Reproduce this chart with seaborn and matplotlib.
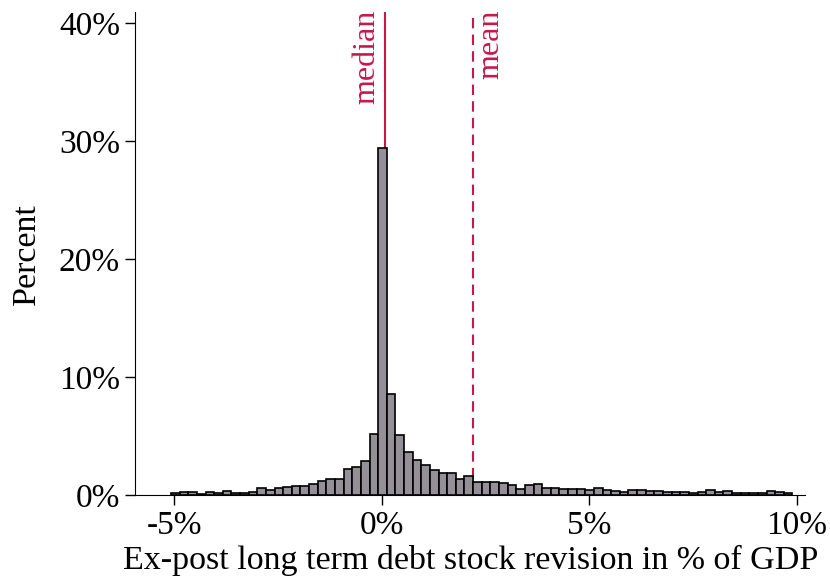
import matplotlib
matplotlib.use('Agg')
import matplotlib.pyplot as plt
import seaborn as sns
import numpy as np
import pandas as pd
from matplotlib.ticker import FuncFormatter

# bin layout (Stata-style: start at the min, fixed width)
bin_start = -5.08
bin_width = 0.208

# percent of observations in each bin, left to right
bar_pct = [
    0.15, 0.23, 0.23, 0.12, 0.22, 0.21, 0.38, 0.21, 0.21, 0.25,
    0.56, 0.42, 0.60, 0.70, 0.76, 0.76, 0.96, 1.20, 1.40, 1.35,
    2.18, 2.36, 2.90, 5.20, 29.40, 8.60, 5.06, 3.64, 2.97, 2.54,
    2.09, 1.89, 1.89, 1.33, 1.60, 1.12, 1.12, 1.10, 1.05, 0.82,
    0.48, 0.82, 0.96, 0.60, 0.63, 0.48, 0.48, 0.48, 0.40, 0.63,
    0.40, 0.36, 0.25, 0.45, 0.45, 0.34, 0.34, 0.23, 0.23, 0.23,
    0.20, 0.23, 0.42, 0.23, 0.34, 0.20, 0.20, 0.20, 0.20, 0.31,
    0.25, 0.17,
]

median_val = 0.08
mean_val = 2.2

x_ticks = [-5, 0, 5, 10]
y_ticks = [0, 10, 20, 30, 40]

red = '#c8174b'

sns.set_style('ticks')
plt.rcParams['font.family'] = ['Liberation Serif', 'DejaVu Serif']

n_bins = len(bar_pct)
edges = bin_start + bin_width * np.arange(n_bins + 1)
df = pd.DataFrame({'rev': (edges[:-1] + edges[1:]) / 2, 'pct': bar_pct})

fig = plt.figure(figsize=(8.3, 5.79), dpi=100)
ax = fig.add_axes([0.163, 0.145, 0.807, 0.834])

ax.axvline(median_val, color=red, lw=1.5, zorder=0)
ax.axvline(mean_val, color=red, lw=1.5, ls=(0, (5, 3)), zorder=0)

sns.histplot(data=df, x='rev', weights='pct', binwidth=bin_width,
             binrange=(float(edges[0]), float(edges[-1])), ax=ax,
             color='#958f97', edgecolor='black', linewidth=1.2, alpha=1, zorder=2)

ax.set_xlim(-5.94, 10.2)
ax.set_ylim(0, 40.9)
ax.set_xticks(x_ticks)
ax.set_yticks(y_ticks)
pct = FuncFormatter(lambda v, _: f'{v:g}%')
ax.xaxis.set_major_formatter(pct)
ax.yaxis.set_major_formatter(pct)
ax.tick_params(labelsize=24, length=7, width=1, direction='out',
               colors='black', pad=4)
for s in ax.spines.values():
    s.set_color('black')
sns.despine(ax=ax)

ax.set_xlabel('Ex-post long term debt stock revision in % of GDP',
              fontsize=24.5, color='black', labelpad=3)
ax.set_ylabel('Percent', fontsize=24.5, color='black', labelpad=12)

ax.text(median_val - 0.08, 41.1, 'median', rotation=90, ha='right', va='top',
        color=red, fontsize=23)
ax.text(mean_val + 0.08, 41.1, 'mean', rotation=90, ha='left', va='top',
        color=red, fontsize=23)

plt.savefig('out.png', dpi=100)
plt.close()
